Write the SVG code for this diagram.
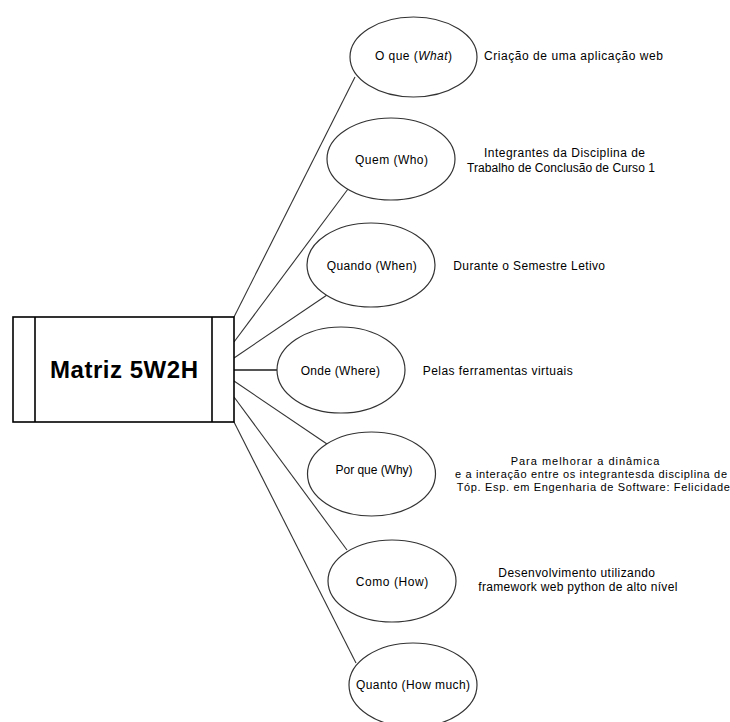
<svg xmlns="http://www.w3.org/2000/svg" width="730" height="722" viewBox="0 0 730 722">
<style>
.bg{fill:#fff}
.box{fill:#fff;stroke:#000;stroke-width:1.6}
.ell{fill:#fff;stroke:#333;stroke-width:1.2}
.con{stroke:#333;stroke-width:1.1;fill:none}
.t{font-family:"Liberation Sans",Arial,sans-serif;font-size:12px;fill:#000}
.s{font-size:11px}
.c{text-anchor:middle}
.title{font-family:"Liberation Sans",Arial,sans-serif;font-size:24px;font-weight:bold;fill:#000;text-anchor:middle}
</style>
<rect class="bg" x="0" y="0" width="730" height="722"/>
<g id="connectors">
<line class="con" x1="234" y1="317" x2="355" y2="77"/>
<line class="con" x1="234" y1="342" x2="348" y2="189"/>
<line class="con" x1="234" y1="358" x2="327" y2="295"/>
<line class="con" x1="234" y1="370" x2="277" y2="370" style="stroke-width:1.8;stroke:#555"/>
<line class="con" x1="234" y1="381" x2="327" y2="444"/>
<line class="con" x1="234" y1="397" x2="347" y2="550"/>
<line class="con" x1="234" y1="422" x2="356" y2="663"/>
</g>
<g id="matriz">
<rect class="box" x="13" y="317" width="221" height="105"/>
<line class="box" x1="35" y1="317" x2="35" y2="422"/>
<line class="box" x1="212" y1="317" x2="212" y2="422"/>
<text class="title" x="124" y="378" textLength="148" lengthAdjust="spacing">Matriz 5W2H</text>
</g>
<g id="oque">
<ellipse class="ell" cx="413.5" cy="57" rx="63.5" ry="40"/>
<text class="t c" x="413.5" y="60" textLength="77" lengthAdjust="spacing">O que (<tspan font-style="italic">What</tspan>)</text>
<text class="t" x="484" y="60" textLength="179" lengthAdjust="spacing">Criação de uma aplicação web</text>
</g>
<g id="quem">
<ellipse class="ell" cx="391" cy="159" rx="64" ry="41"/>
<text class="t c" x="391.5" y="164" textLength="73" lengthAdjust="spacing">Quem (Who)</text>
<text class="t c" x="564.5" y="157" textLength="161" lengthAdjust="spacing">Integrantes da Disciplina de</text>
<text class="t c" x="561" y="171.5" textLength="188" lengthAdjust="spacing">Trabalho de Conclusão de Curso 1</text>
</g>
<g id="quando">
<ellipse class="ell" cx="371" cy="265" rx="64" ry="42"/>
<text class="t c" x="371.7" y="270" textLength="90" lengthAdjust="spacing">Quando (When)</text>
<text class="t" x="453.3" y="270" textLength="151.7" lengthAdjust="spacing">Durante o Semestre Letivo</text>
</g>
<g id="onde">
<ellipse class="ell" cx="341" cy="370" rx="64" ry="43"/>
<text class="t c" x="340.3" y="375" textLength="79.3" lengthAdjust="spacing">Onde (Where)</text>
<text class="t" x="422.7" y="375" textLength="150" lengthAdjust="spacing">Pelas ferramentas virtuais</text>
</g>
<g id="porque">
<ellipse class="ell" cx="371.5" cy="474" rx="64" ry="42"/>
<text class="t c" x="374" y="474" textLength="77" lengthAdjust="spacing">Por que (Why)</text>
<text class="t s c" x="585" y="465" textLength="148.6" lengthAdjust="spacing">Para melhorar a dinâmica</text>
<text class="t s c" x="591" y="478" textLength="272" lengthAdjust="spacing">e a interação entre os integrantesda disciplina de</text>
<text class="t s c" x="593.3" y="491" textLength="273.3" lengthAdjust="spacing">Tóp. Esp. em Engenharia de Software: Felicidade</text>
</g>
<g id="como">
<ellipse class="ell" cx="392" cy="581" rx="64" ry="41"/>
<text class="t c" x="392" y="586" textLength="72.3" lengthAdjust="spacing">Como (How)</text>
<text class="t c" x="576.7" y="576.7" textLength="156.7" lengthAdjust="spacing">Desenvolvimento utilizando</text>
<text class="t c" x="577.8" y="591" textLength="199" lengthAdjust="spacing">framework web python de alto nível</text>
</g>
<g id="quanto">
<ellipse class="ell" cx="413" cy="685" rx="64" ry="42"/>
<text class="t c" x="413" y="689.3" textLength="114" lengthAdjust="spacing">Quanto (How much)</text>
</g>
</svg>
